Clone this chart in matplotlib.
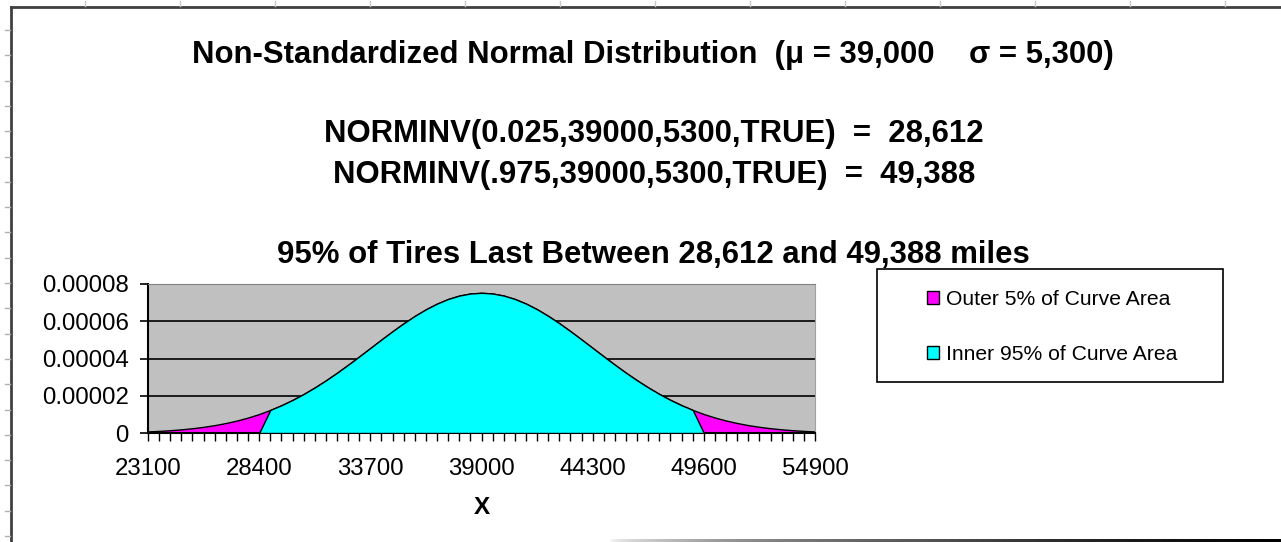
import numpy as np
import matplotlib
matplotlib.use('Agg')
import matplotlib.pyplot as plt
from matplotlib.patches import Patch, Rectangle
from matplotlib.lines import Line2D

plt.rcParams['font.family'] = ['Liberation Sans', 'DejaVu Sans']

# categories on the x axis (miles)
miles = [23100, 23630, 24160, 24690, 25220, 25750, 26280, 26810, 27340, 27870,
         28400, 28930, 29460, 29990, 30520, 31050, 31580, 32110, 32640, 33170,
         33700, 34230, 34760, 35290, 35820, 36350, 36880, 37410, 37940, 38470,
         39000, 39530, 40060, 40590, 41120, 41650, 42180, 42710, 43240, 43770,
         44300, 44830, 45360, 45890, 46420, 46950, 47480, 48010, 48540, 49070,
         49600, 50130, 50660, 51190, 51720, 52250, 52780, 53310, 53840, 54370,
         54900]

# density values (x 1e-5)
density_e5 = [0.084, 0.112, 0.149, 0.197, 0.256, 0.331, 0.422, 0.535, 0.669, 0.830,
              1.019, 1.238, 1.490, 1.775, 2.093, 2.444, 2.825, 3.233, 3.664, 4.110,
              4.565, 5.021, 5.466, 5.892, 6.287, 6.643, 6.948, 7.196, 7.378, 7.490,
              7.527, 7.490, 7.378, 7.196, 6.948, 6.643, 6.287, 5.892, 5.466, 5.021,
              4.565, 4.110, 3.664, 3.233, 2.825, 2.444, 2.093, 1.775, 1.490, 1.238,
              1.019, 0.830, 0.669, 0.535, 0.422, 0.331, 0.256, 0.197, 0.149, 0.112,
              0.084]

lower_bound = 28612
upper_bound = 49388

x_labels = ['23100', '28400', '33700', '39000', '44300', '49600', '54900']
y_ticks = [0, 0.00002, 0.00004, 0.00006, 0.00008]
y_labels = ['0', '0.00002', '0.00004', '0.00006', '0.00008']

legend_labels = ['Outer 5% of Curve Area', 'Inner 95% of Curve Area']
MAGENTA = '#FF00FF'
CYAN = '#00FFFF'

W, H = 1281, 542
fig = plt.figure(figsize=(W / 100, H / 100), dpi=100)


def fx(px):
    return px / W


def fy(py):
    return 1 - py / H


# plot area
ax = fig.add_axes([fx(148), fy(433), fx(815) - fx(148), fy(284) - fy(433)])
ax.set_facecolor('#C0C0C0')

pos = np.arange(len(miles))
full = np.array(density_e5) * 1e-5
m = np.array(miles)
inner = np.where((m >= lower_bound) & (m <= upper_bound), full, 0.0)

ax.fill_between(pos, 0, full, facecolor=MAGENTA, edgecolor='black', linewidth=1, zorder=2)
ax.fill_between(pos, 0, inner, facecolor=CYAN, edgecolor='black', linewidth=1, zorder=3)

ax.set_xlim(0, len(miles) - 1)
ax.set_ylim(0, 0.00008)
ax.set_yticks(y_ticks)
ax.set_yticklabels(y_labels, fontsize=17.3)
ax.set_xticks(pos)
tick_text = [''] * len(miles)
for i, v in enumerate(miles):
    if str(v) in x_labels:
        tick_text[i] = str(v)
ax.set_xticklabels(tick_text, fontsize=17.3)
ax.tick_params(axis='y', direction='out', length=6, width=1.2, pad=8, colors='black')
ax.tick_params(axis='x', direction='out', length=6, width=1, pad=12, colors='black')
for gy in y_ticks[1:-1]:
    ax.axhline(gy, color='black', linewidth=1.2, zorder=1)
ax.spines['left'].set_linewidth(1.5)
ax.spines['bottom'].set_linewidth(1.5)
ax.spines['top'].set_color('#808080')
ax.spines['right'].set_color('#A0A0A0')

ax.set_xlabel('X', fontsize=17.5, fontweight='bold')
ax.xaxis.set_label_coords(0.5, (fy(496) - fy(433)) / (fy(284) - fy(433)))

# titles
TITLE_SIZE = 22.4
fig.text(fx(653), fy(55), 'Non-Standardized Normal Distribution  (\u03bc = 39,000    \u03c3 = 5,300)',
         ha='center', va='center', fontsize=TITLE_SIZE, fontweight='bold')
fig.text(fx(654), fy(134), 'NORMINV(0.025,39000,5300,TRUE)  =  28,612',
         ha='center', va='center', fontsize=TITLE_SIZE, fontweight='bold')
fig.text(fx(654), fy(175), 'NORMINV(.975,39000,5300,TRUE)  =  49,388',
         ha='center', va='center', fontsize=TITLE_SIZE, fontweight='bold')
fig.text(fx(653), fy(255), '95% of Tires Last Between 28,612 and 49,388 miles',
         ha='center', va='center', fontsize=TITLE_SIZE, fontweight='bold')

# legend box
fig.patches.append(Rectangle((fx(877), fy(382)), fx(1223) - fx(877), fy(269) - fy(382),
                             transform=fig.transFigure, facecolor='white',
                             edgecolor='black', linewidth=1.2))
handles = [Patch(facecolor=MAGENTA, edgecolor='black'), Patch(facecolor=CYAN, edgecolor='black')]
fig.legend(handles, legend_labels, loc='upper left', bbox_to_anchor=(fx(910), fy(273)),
           frameon=False, fontsize=15.2, handlelength=0.55, handleheight=0.55,
           handletextpad=0.35, labelspacing=1.72, borderpad=0.3)

# spreadsheet frame around the chart
fig.add_artist(Line2D([fx(11), 1], [fy(7), fy(7)], color='#404040', linewidth=2,
                      transform=fig.transFigure))
fig.add_artist(Line2D([fx(11), fx(11)], [fy(7), 0], color='#404040', linewidth=2,
                      transform=fig.transFigure))
for cx in range(85, W, 95):
    fig.add_artist(Line2D([fx(cx), fx(cx)], [fy(1), fy(6)], color='#C8C8C8', linewidth=1,
                          transform=fig.transFigure))
for ry in np.arange(30, H, 25.3):
    fig.add_artist(Line2D([fx(5), fx(10)], [fy(ry), fy(ry)], color='#B0B0B0', linewidth=1,
                          transform=fig.transFigure))

# shadow line along the bottom
shadow = fig.add_axes([fx(608), 0, 1 - fx(608), fy(539)])
shadow.imshow(np.linspace(0, 1, 256)[None, :] ** 0.4, cmap='Greys', aspect='auto',
              vmin=0, vmax=1)
shadow.axis('off')

plt.savefig('out.png', dpi=100)
plt.close()
